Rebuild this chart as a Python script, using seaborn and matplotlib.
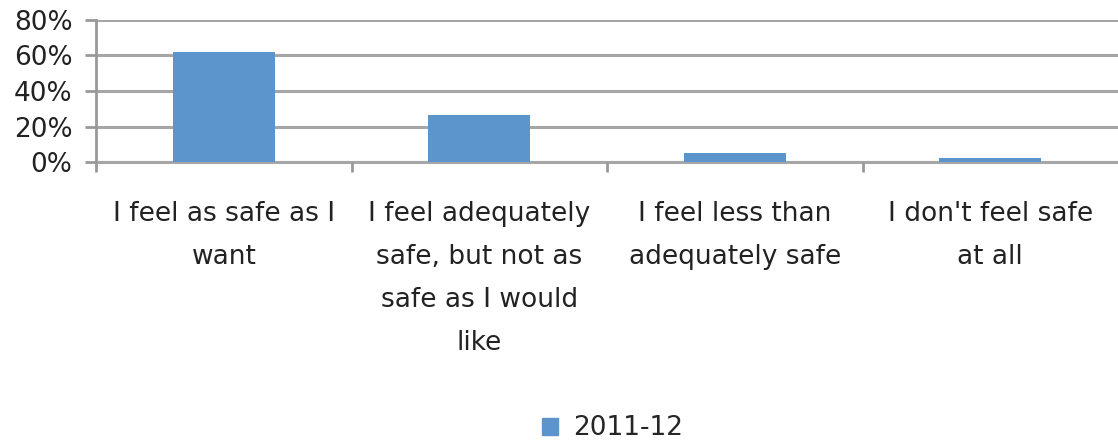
import matplotlib
matplotlib.use("Agg")
import matplotlib.pyplot as plt
import matplotlib.ticker as mticker
import seaborn as sns
import pandas as pd

# data
categories = [
    "I feel as safe as I\nwant",
    "I feel adequately\nsafe, but not as\nsafe as I would\nlike",
    "I feel less than\nadequately safe",
    "I don't feel safe\nat all",
]
values = [0.62, 0.265, 0.052, 0.023]
series = "2011-12"

df = pd.DataFrame({"category": categories, "share": values, "year": series})

sns.set_theme(style="white")
plt.rcParams["font.family"] = ["DejaVu Sans"]

fig = plt.figure(figsize=(11.18, 4.44), dpi=100)
ax = fig.add_axes([0.086, 0.635, 0.914, 0.32])

bar_color = "#5B95CB"
grid_color = "#A6A6A6"
sns.barplot(data=df, x="category", y="share", hue="year", palette=[bar_color],
            width=0.4, ax=ax, legend=False, saturation=1, linewidth=0)

ax.set_ylim(0, 0.8)
ax.set_xlim(-0.5, len(categories) - 0.5)
ax.yaxis.set_major_locator(mticker.MultipleLocator(0.2))
ax.yaxis.set_major_formatter(mticker.PercentFormatter(1.0, decimals=0))
ax.grid(axis="y", color=grid_color, linewidth=2.2)
ax.set_axisbelow(True)
ax.axhline(0, color=grid_color, linewidth=2.2, clip_on=False, zorder=0.5)

# category boundary ticks on x axis (the right edge runs off the figure)
ax.set_xticks([i - 0.5 for i in range(len(categories))], minor=False)
ax.set_xticklabels([])
ax.set_xticks(range(len(categories)), minor=True)
ax.set_xticklabels(categories, minor=True, fontsize=19, color="#222222",
                   linespacing=1.85)
ax.tick_params(axis="x", which="minor", length=0, pad=28, bottom=True)
ax.tick_params(axis="x", which="major", length=7.5, width=2, color="#999999",
               direction="out", bottom=True)
ax.tick_params(axis="y", length=8, width=2, color="#999999", direction="out",
               labelsize=19, labelcolor="#222222", pad=9, left=True)
ax.set_xlabel("")
ax.set_ylabel("")

for side in ["top", "right", "bottom"]:
    ax.spines[side].set_visible(False)
ax.spines["left"].set_color("#999999")
ax.spines["left"].set_linewidth(2)

handle = plt.Rectangle((0, 0), 1, 1, color=bar_color)
fig.legend([handle], [series], loc="center", bbox_to_anchor=(0.548, 0.035),
           frameon=False, fontsize=19, handlelength=0.6, handleheight=0.6,
           handletextpad=0.6)

fig.savefig("out.png", dpi=100)
